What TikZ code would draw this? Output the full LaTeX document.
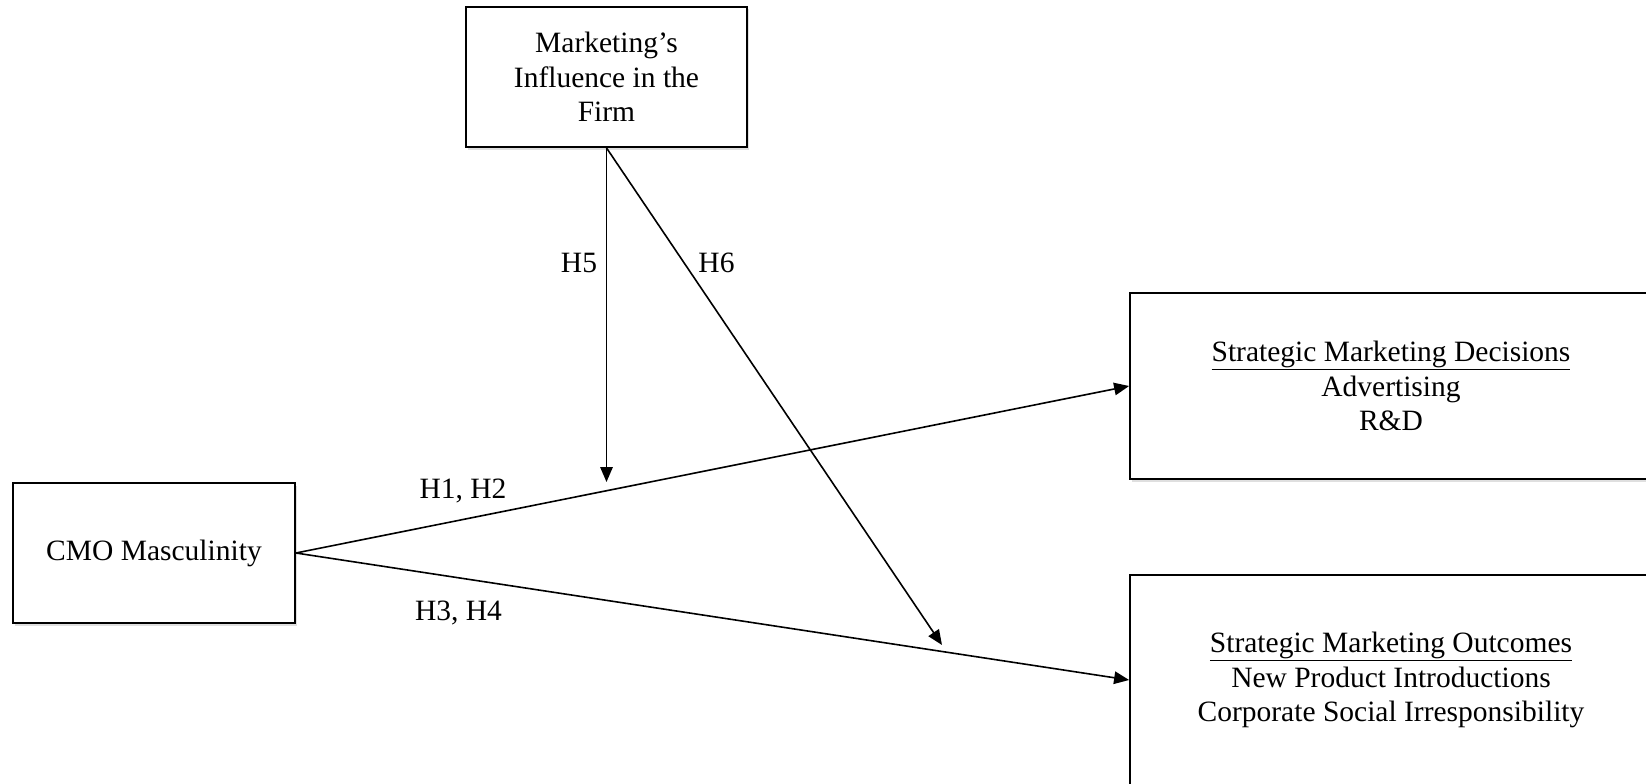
\documentclass[tikz,border=0pt]{standalone}
\usepackage{fontspec}
\setmainfont{Liberation Serif}
\usetikzlibrary{arrows.meta,shadows}
\begin{document}
\begin{tikzpicture}[x=1pt,y=-1pt,
  box/.style={draw, line width=1.8pt, fill=white, align=center, inner sep=0pt,
    font=\fontsize{29.5}{34.5}\selectfont,
    drop shadow={shadow xshift=2pt, shadow yshift=-2.5pt, fill=black!25}},
  lbl/.style={font=\fontsize{29.5}{34.5}\selectfont, inner sep=0pt, anchor=base},
  arr/.style={line width=1.6pt, -{Triangle[length=15pt,width=12.5pt]}}]
\useasboundingbox (0,0) rectangle (1646,784);
\clip (0,0) rectangle (1646,784);
\node[box, minimum width=281pt, minimum height=140pt] (mif) at (606.5,77) {Marketing’s\\Influence in the\\Firm};
\node[box, minimum width=282pt, minimum height=140pt] (cmo) at (154,553) {CMO Masculinity};
\node[box, minimum width=522pt, minimum height=186pt] (smd) at (1391,386) {\underline{Strategic Marketing Decisions}\\Advertising\\R\&D};
\node[box, minimum width=522pt, minimum height=210pt] (smo) at (1391,680) {\underline{Strategic Marketing Outcomes}\\New Product Introductions\\Corporate Social Irresponsibility};
\coordinate (h5end) at (606.5,482);
\coordinate (h6end) at (942,645);
\draw[arr] (cmo.east) -- (smd.west);
\draw[arr] (cmo.east) -- (smo.west);
\draw[arr] (mif.south) -- (h5end);
\draw[arr] (mif.south) -- (h6end);
\node[lbl] (l12) at (463,498) {H1, H2};
\node[lbl] (l34) at (458.5,620) {H3, H4};
\node[lbl] (l5) at (579,272) {H5};
\node[lbl] (l6) at (716.5,272) {H6};
\end{tikzpicture}
\end{document}
